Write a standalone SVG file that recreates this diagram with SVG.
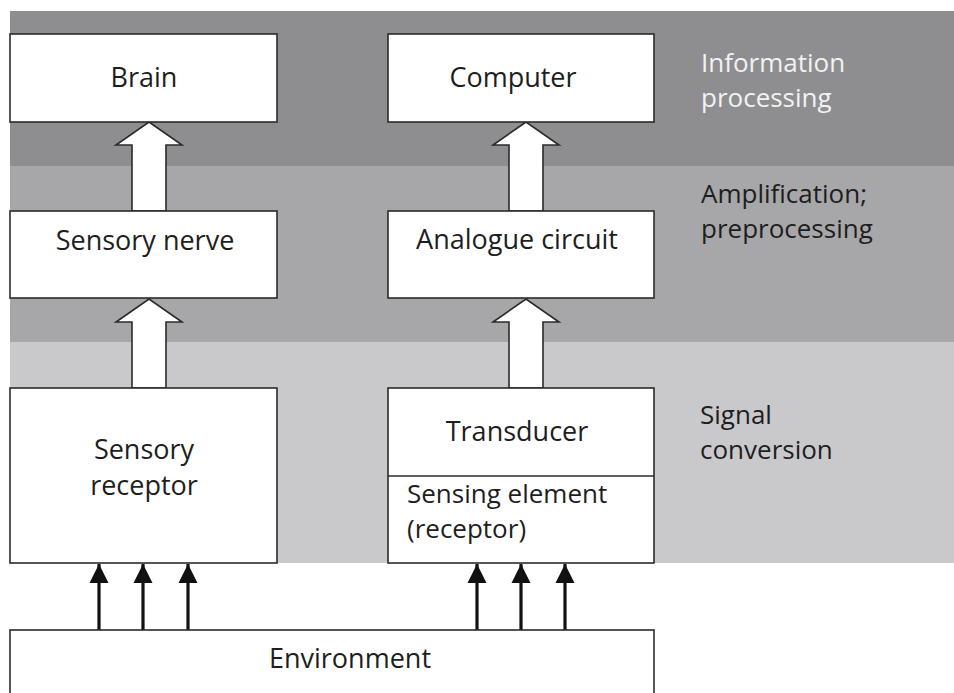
<svg xmlns="http://www.w3.org/2000/svg" width="954" height="693" viewBox="0 0 954 693">
<style>
.box{fill:#fff;stroke:#2b2b2b;stroke-width:1.6}
.blk{fill:#fff;stroke:#2b2b2b;stroke-width:1.6;stroke-linejoin:miter}
.t{font-family:"Open Sans","DejaVu Sans",sans-serif;font-size:27px;fill:#1e1e1e}
.s{font-size:26px}
.c{text-anchor:middle}
.w{fill:#f2f2f2}
.ln{stroke:#111;stroke-width:3.2;fill:none}
</style>
<defs>
<marker id="ah" viewBox="0 0 10 10" refX="10" refY="5" markerWidth="6" markerHeight="6" markerUnits="strokeWidth" orient="auto">
<path d="M0,0 L10,5 L0,10 Z" fill="#111"/>
</marker>
</defs>
<g id="bands">
<rect x="10" y="11" width="944" height="155" fill="#8e8e90"/>
<rect x="10" y="166" width="944" height="176" fill="#a7a7a9"/>
<rect x="10" y="342" width="944" height="221" fill="#c9c9cb"/>
</g>
<g id="layer-labels">
<text class="t s w" x="701" y="72">Information</text>
<text class="t s w" x="701" y="107">processing</text>
<text class="t s" x="701" y="203">Amplification;</text>
<text class="t s" x="701" y="238">preprocessing</text>
<text class="t s" x="700" y="424">Signal</text>
<text class="t s" x="700" y="459">conversion</text>
</g>
<g id="connectors">
<path class="blk" d="M132,211 V145 H116 L149,122 L182,145 H166 V211 Z"/>
<path class="blk" d="M132,388 V322 H116 L149,299 L182,322 H166 V388 Z"/>
<path class="blk" d="M509,211 V145 H493 L526,122 L559,145 H543 V211 Z"/>
<path class="blk" d="M509,388 V322 H493 L526,299 L559,322 H543 V388 Z"/>
<line class="ln" x1="99" y1="630" x2="99" y2="564" marker-end="url(#ah)"/>
<line class="ln" x1="143" y1="630" x2="143" y2="564" marker-end="url(#ah)"/>
<line class="ln" x1="188" y1="630" x2="188" y2="564" marker-end="url(#ah)"/>
<line class="ln" x1="477" y1="630" x2="477" y2="564" marker-end="url(#ah)"/>
<line class="ln" x1="521" y1="630" x2="521" y2="564" marker-end="url(#ah)"/>
<line class="ln" x1="565" y1="630" x2="565" y2="564" marker-end="url(#ah)"/>
</g>
<g id="brain">
<rect class="box" x="10" y="34" width="267" height="88"/>
<text class="t c" x="144" y="87">Brain</text>
</g>
<g id="computer">
<rect class="box" x="388" y="34" width="266" height="88"/>
<text class="t c" x="513" y="87">Computer</text>
</g>
<g id="sensory-nerve">
<rect class="box" x="10" y="211" width="267" height="87"/>
<text class="t c" x="145" y="250">Sensory nerve</text>
</g>
<g id="analogue-circuit">
<rect class="box" x="388" y="211" width="266" height="87"/>
<text class="t c" x="517" y="249">Analogue circuit</text>
</g>
<g id="sensory-receptor">
<rect class="box" x="10" y="388" width="267" height="175"/>
<text class="t c" x="144" y="459">Sensory</text>
<text class="t c" x="144" y="495">receptor</text>
</g>
<g id="transducer">
<rect class="box" x="388" y="388" width="266" height="175"/>
<line x1="388" y1="476" x2="654" y2="476" stroke="#2b2b2b" stroke-width="1.6"/>
<text class="t c" x="517" y="441">Transducer</text>
<text class="t s" x="407" y="503">Sensing element</text>
<text class="t s" x="407" y="538">(receptor)</text>
</g>
<g id="environment">
<rect class="box" x="10" y="630" width="644" height="80"/>
<text class="t c" x="350" y="668">Environment</text>
</g>
</svg>
